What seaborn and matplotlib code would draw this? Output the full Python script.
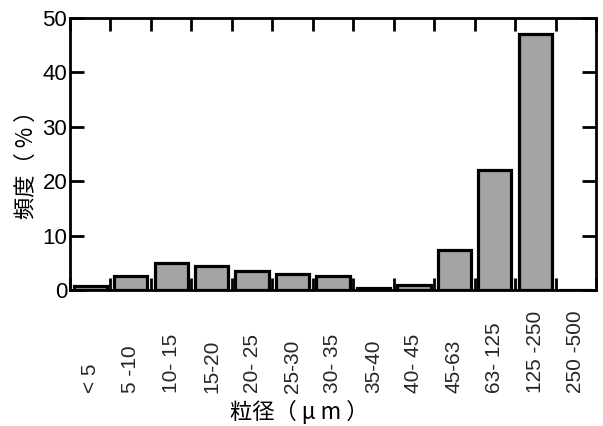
import matplotlib
matplotlib.use("Agg")
import matplotlib.pyplot as plt
import seaborn as sns
import numpy as np
import pandas as pd

categories = ["<5", "5-10", "10-15", "15-20", "20-25", "25-30", "30-35",
              "35-40", "40-45", "45-63", "63-125", "125-250", "250-500"]
tick_labels = ["< 5", "5 -10", "10- 15", "15-20", "20- 25", "25-30", "30- 35",
               "35-40", "40- 45", "45-63", "63- 125", "125 -250", "250 -500"]
frequency = [0.8, 2.5, 4.9, 4.4, 3.5, 2.9, 2.5, 0.4, 0.9, 7.4, 22.1, 47.1, 0.0]
y_ticks = [0, 10, 20, 30, 40, 50]

sns.set_theme(style="white")
plt.rcParams["font.family"] = ["Liberation Sans", "DejaVu Sans"]

df = pd.DataFrame({"cat": categories, "freq": frequency})

fig = plt.figure(figsize=(6.03, 4.26), dpi=100)
ax = fig.add_axes([70/603, 1-290/426, 526/603, 272/426])

sns.barplot(data=df, x="cat", y="freq", color="#a4a4a4", saturation=1,
            edgecolor="black", linewidth=2.3, width=0.82, ax=ax)

ax.set_xlim(-0.5, len(categories) - 0.5)
ax.set_ylim(0, 50)
ax.set_yticks(y_ticks)
ax.set_yticklabels([str(v) for v in y_ticks], fontsize=16)

ax.set_xticks(np.arange(len(categories)))
ax.set_xticklabels(tick_labels, rotation=90, fontsize=15, va="bottom")
ax.set_xticks(np.arange(len(categories) + 1) - 0.5, minor=True)

ax.tick_params(axis="x", which="major", length=0, pad=74)
ax.tick_params(axis="x", which="minor", direction="in", length=9, width=2,
               top=True, bottom=True, color="black")
ax.tick_params(axis="y", which="major", direction="in", length=10, width=2,
               left=True, right=True, pad=2, color="black", labelcolor="black")

for s in ax.spines.values():
    s.set_visible(True)
    s.set_linewidth(2)
    s.set_color("black")

cjk = ["Noto Sans CJK JP", "DejaVu Sans"]
ax.set_xlabel("粒径（ μ m ）", fontsize=16, family=cjk, color="black")
ax.set_ylabel("頻度（ % ）", fontsize=16, family=cjk, color="black")
ax.xaxis.set_label_coords(0.435, -0.405)
ax.yaxis.set_label_coords(-0.062, 0.48)

fig.savefig("out.png", dpi=100, facecolor="white")
